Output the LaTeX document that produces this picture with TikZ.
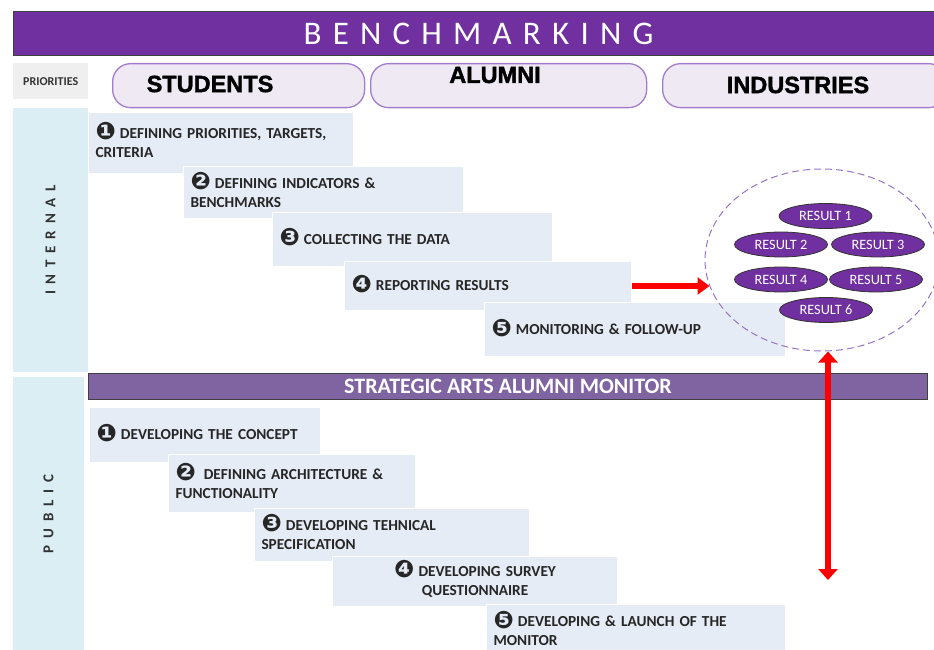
\documentclass[tikz,border=0pt]{standalone}
\usepackage{fontspec}
\setmainfont{Carlito}
\newfontfamily\headfont[BoldFeatures={FakeBold=1.6}]{Liberation Sans}
\newfontfamily\dingfont{DejaVu Sans}
\newfontfamily\titlefont[LetterSpace=34]{Carlito}
\newfontfamily\sidefont[LetterSpace=45]{Carlito}
\usetikzlibrary{arrows.meta,shapes.geometric,positioning}

\definecolor{benchpurple}{HTML}{7030A0}
\definecolor{monitorpurple}{HTML}{8064A2}
\definecolor{headfill}{HTML}{EEE9F3}
\definecolor{headline}{HTML}{A27DCC}
\definecolor{stepfill}{HTML}{E6ECF6}
\definecolor{sidefill}{HTML}{DAEEF3}
\definecolor{prioritygray}{HTML}{EFEFEF}
\definecolor{zoneline}{HTML}{9575C6}

\newcommand{\stepno}[1]{{\dingfont\fontsize{24}{19}\selectfont\raisebox{-1.5pt}[0pt][0pt]{#1}}\hspace{-1pt}}

\begin{document}
\begin{tikzpicture}[
    x=1pt, y=-1pt,
    stepbox/.style 2 args={draw=white, line width=1pt, fill=stepfill, anchor=north west, minimum width=#1, minimum height=#2, text width=#1-14pt, inner xsep=7pt, inner ysep=0pt, align=left, font=\fontsize{15.3}{19}\selectfont\bfseries, text=black!85},
    headbox/.style={draw=headline, line width=1.3pt, fill=headfill, rounded corners=18pt, anchor=north west, minimum height=44pt},
    headtext/.style={font=\headfont\fontsize{23.5}{24}\selectfont\bfseries, inner sep=0pt},
    sidebox/.style={fill=sidefill, rotate=90, inner sep=0pt, font=\sidefont\fontsize{15}{15}\selectfont\bfseries, text=black!80},
    result/.style={ellipse, draw=black!80, line width=0.8pt, fill=benchpurple, text=white, minimum width=93pt, minimum height=25pt, inner sep=0pt, font=\fontsize{14.3}{14}\selectfont},
    arrow/.style={draw=red, line width=5.5pt, -{Triangle[width=17pt, length=12pt]}},
    bothways/.style={draw=red, line width=5.5pt, {Triangle[width=19pt, length=11pt]}-{Triangle[width=19pt, length=11pt]}}
]
    \useasboundingbox (0,0) rectangle (934,650);

    % title and priorities row
    \node[fill=benchpurple, draw=black!75, line width=1pt, anchor=north west, minimum width=930pt, minimum height=44pt, text=white, font=\titlefont\fontsize{33}{33}\selectfont] (title) at (13,11) {BENCHMARKING};
    \node[fill=prioritygray, anchor=north west, minimum width=75pt, minimum height=36pt, inner sep=0pt, font=\fontsize{12}{12}\selectfont\bfseries, text=black!80] (priorities) at (13,63) {PRIORITIES};
    \node[headbox, minimum width=252pt] (students) at (112,63) {};
    \node[headbox, minimum width=276pt] (alumni) at (370,63) {};
    \node[headbox, minimum width=284pt] (industries) at (662,63) {};
    \node[headtext] (studentstext) at (210,84) {STUDENTS};
    \node[headtext] (alumnitext) at (495,75) {ALUMNI};
    \node[headtext] (industriestext) at (798,85) {INDUSTRIES};

    % side bars
    \node[sidebox, minimum width=264pt, minimum height=75pt] (internal) at (50.5,240) {INTERNAL};
    \node[sidebox, minimum width=274pt, minimum height=71pt] (public) at (48.5,514) {PUBLIC};

    % internal steps
    \node[stepbox={265pt}{61pt}] (prio) at (88,112) {\stepno{❶} DEFINING PRIORITIES, TARGETS,\\CRITERIA};
    \node[stepbox={280pt}{52pt}] (indic) at (183,166) {\stepno{❷} DEFINING INDICATORS \&\\BENCHMARKS};
    \node[stepbox={280pt}{54pt}] (collect) at (272,212) {\stepno{❸} COLLECTING THE DATA};
    \node[stepbox={287pt}{49pt}] (report) at (344,261) {\stepno{❹} REPORTING RESULTS};
    \node[stepbox={301pt}{54pt}] (follow) at (484,302) {\stepno{❺} MONITORING \& FOLLOW-UP};

    % results
    \node[ellipse, draw=zoneline, dashed, dash pattern=on 7pt off 4pt, line width=1pt, minimum width=234pt, minimum height=182pt] (resultzone) at (822,260) {};
    \node[result] (res1) at (825.5,216) {RESULT 1};
    \node[result] (res2) at (781,244.5) {RESULT 2};
    \node[result] (res3) at (878,244.5) {RESULT 3};
    \node[result] (res4) at (781,279.5) {RESULT 4};
    \node[result] (res5) at (876,279.5) {RESULT 5};
    \node[result] (res6) at (826,310) {RESULT 6};

    \node[fill=monitorpurple, draw=black!75, line width=1pt, anchor=north west, minimum width=839pt, minimum height=26pt, inner sep=0pt, text=white, font=\fontsize{22}{22}\selectfont\bfseries] (monitor) at (88,373) {STRATEGIC ARTS ALUMNI MONITOR};

    % public steps
    \node[stepbox={231pt}{55pt}] (concept) at (89,407) {\stepno{❶} DEVELOPING THE CONCEPT};
    \node[stepbox={247pt}{58pt}] (archi) at (168,454) {\stepno{❷}\hspace{9pt}DEFINING ARCHITECTURE \&\\FUNCTIONALITY};
    \node[stepbox={275pt}{53pt}] (spec) at (254,508) {\stepno{❸} DEVELOPING TEHNICAL\\SPECIFICATION};
    \node[stepbox={285pt}{50pt}, align=center] (survey) at (332,556) {\stepno{❹} DEVELOPING SURVEY\\QUESTIONNAIRE};
    \node[stepbox={299pt}{53pt}] (launch) at (486,604) {\stepno{❺} DEVELOPING \& LAUNCH OF THE\\MONITOR};

    \coordinate (monitorend) at (828,580);
    \draw[arrow, shorten >=-5pt] (report.east) -- (report.east -| resultzone.west);
    \draw[bothways] (resultzone.south -| monitorend) -- (monitorend);
\end{tikzpicture}
\end{document}
